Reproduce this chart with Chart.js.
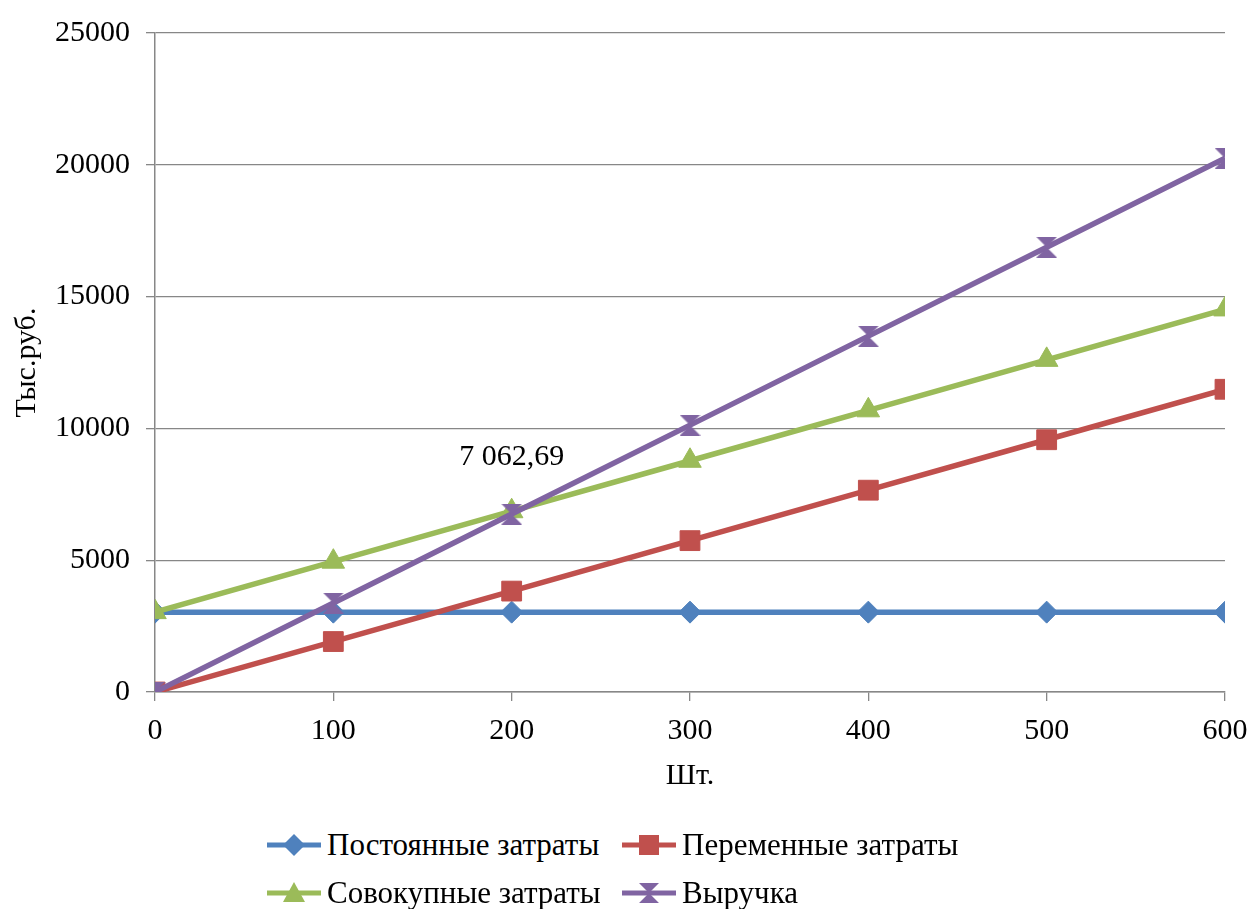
<!DOCTYPE html>
<html lang="ru">
<head>
<meta charset="utf-8">
<title>Точка безубыточности</title>
<script src="https://cdn.jsdelivr.net/npm/chart.js@4"></script>
<style>
  body { margin: 0; background: #fff; font-family: 'Liberation Serif', 'Times New Roman', serif; }
  #wrap { position: relative; width: 1255px; height: 909px; }
  #legend {
    position: absolute; left: 267px; top: 821px;
    display: grid; grid-template-columns: 355px auto; grid-auto-rows: 48px;
  }
  .item { display: flex; align-items: center; font-size: 31px; color: #000; white-space: nowrap; }
  .item canvas { margin-right: 6px; }
</style>
</head>
<body>
<div id="wrap">
  <canvas id="breakEvenChart" width="1255" height="810"></canvas>
  <div id="legend"></div>
</div>
<script>
// Объём производства, шт.
const quantities = [0, 100, 200, 300, 400, 500, 600];

// Значения рядов, тыс. руб.
const fixedCosts = [3030, 3030, 3030, 3030, 3030, 3030, 3030];
const variableCosts = [0, 1914, 3828, 5742, 7656, 9570, 11484];
const totalCosts = [3030, 4944, 6858, 8772, 10686, 12600, 14514];
const revenue = [0, 3375, 6750, 10125, 13500, 16875, 20250];

const seriesNames = ['Постоянные затраты', 'Переменные затраты', 'Совокупные затраты', 'Выручка'];
const seriesColors = ['#4F81BD', '#C0504D', '#9BBB59', '#8064A2'];

const yTicks = [0, 5000, 10000, 15000, 20000, 25000];

// Подпись точки безубыточности
const breakEvenText = '7 062,69';
const breakEvenLabelAt = { x: 200, y: 8915 };

const FONT = { family: "'Liberation Serif', 'Times New Roman', serif", size: 30 };
const GRID = '#878787';

// маркер "песочные часы" для ряда Выручка
function hourglass(color, size) {
  const c = document.createElement('canvas');
  c.width = size; c.height = size;
  const g = c.getContext('2d');
  g.fillStyle = color;
  g.beginPath();
  g.moveTo(0, 0); g.lineTo(size, 0); g.lineTo(size / 2, size / 2);
  g.lineTo(size, size); g.lineTo(0, size); g.lineTo(size / 2, size / 2);
  g.closePath();
  g.fill();
  return c;
}

const markers = [
  { style: 'rectRot', radius: 11 },
  { style: 'rect', radius: 14 },
  { style: 'triangle', radius: 13 },
  { style: hourglass(seriesColors[3], 21), radius: 11 }
];

const toPoints = values => values.map((v, i) => ({ x: quantities[i], y: v }));
const allSeries = [fixedCosts, variableCosts, totalCosts, revenue];

const datasets = allSeries.map((values, i) => ({
  label: seriesNames[i],
  data: toPoints(values),
  borderColor: seriesColors[i],
  backgroundColor: seriesColors[i],
  borderWidth: 5.5,
  pointStyle: markers[i].style,
  pointRadius: markers[i].radius,
  pointHoverRadius: markers[i].radius,
  pointBorderWidth: 1,
  tension: 0,
  order: 4 - i
}));

const labelPlugin = {
  id: 'breakEvenLabel',
  afterDatasetsDraw(chart) {
    const { ctx, scales } = chart;
    ctx.save();
    ctx.font = FONT.size + 'px ' + FONT.family;
    ctx.fillStyle = '#000';
    ctx.textAlign = 'center';
    ctx.textBaseline = 'middle';
    ctx.fillText(breakEvenText, scales.x.getPixelForValue(breakEvenLabelAt.x), scales.y.getPixelForValue(breakEvenLabelAt.y));
    ctx.restore();
  }
};

function buildLegend() {
  const box = document.getElementById('legend');
  seriesNames.forEach((name, i) => {
    const item = document.createElement('div');
    item.className = 'item';
    const sw = document.createElement('canvas');
    sw.width = 54; sw.height = 26;
    const g = sw.getContext('2d');
    g.strokeStyle = seriesColors[i];
    g.fillStyle = seriesColors[i];
    g.lineWidth = 5;
    g.beginPath(); g.moveTo(0, 13); g.lineTo(54, 13); g.stroke();
    g.beginPath();
    if (i === 0) { g.moveTo(27, 2); g.lineTo(38, 13); g.lineTo(27, 24); g.lineTo(16, 13); }
    if (i === 1) { g.rect(17, 3, 20, 20); }
    if (i === 2) { g.moveTo(27, 2); g.lineTo(38, 22); g.lineTo(16, 22); }
    if (i === 3) { g.moveTo(17, 3); g.lineTo(37, 3); g.lineTo(27, 13); g.lineTo(37, 23); g.lineTo(17, 23); g.lineTo(27, 13); }
    g.closePath(); g.fill();
    item.appendChild(sw);
    item.appendChild(document.createTextNode(name));
    box.appendChild(item);
  });
}

function createChart() {
  const ctx = document.getElementById('breakEvenChart').getContext('2d');
  new Chart(ctx, {
    type: 'line',
    data: { datasets },
    plugins: [labelPlugin],
    options: {
      responsive: false,
      animation: false,
      layout: { padding: { top: 33, right: 30, left: 0, bottom: 0 } },
      plugins: {
        legend: { display: false },
        tooltip: { enabled: false }
      },
      scales: {
        x: {
          type: 'linear',
          min: 0,
          max: 600,
          afterFit: s => { s.height = 118; s.paddingLeft = 0; s.paddingRight = 0; },
          afterBuildTicks: s => { s.ticks = quantities.map(v => ({ value: v })); },
          grid: { drawOnChartArea: false, drawTicks: true, tickLength: 9, color: GRID, lineWidth: 1.3 },
          border: { color: GRID, width: 1.5 },
          ticks: { color: '#000', font: FONT, padding: 12, maxRotation: 0, callback: v => String(v) },
          title: { display: true, text: 'Шт.', color: '#000', font: FONT, padding: { top: 0, bottom: 16 } }
        },
        y: {
          min: 0,
          max: 25000,
          afterFit: s => { s.width = 155; s.paddingTop = 0; s.paddingBottom = 0; },
          afterBuildTicks: s => { s.ticks = yTicks.map(v => ({ value: v })); },
          grid: { color: GRID, lineWidth: 1.3, tickLength: 9 },
          border: { color: GRID, width: 1.5 },
          ticks: { color: '#000', font: FONT, padding: 16, callback: v => String(v) },
          title: { display: true, text: 'Тыс.руб.', color: '#000', font: FONT, padding: { top: 9, bottom: 0 } }
        }
      }
    }
  });
  buildLegend();
}

window.addEventListener('load', createChart);
</script>
</body>
</html>
